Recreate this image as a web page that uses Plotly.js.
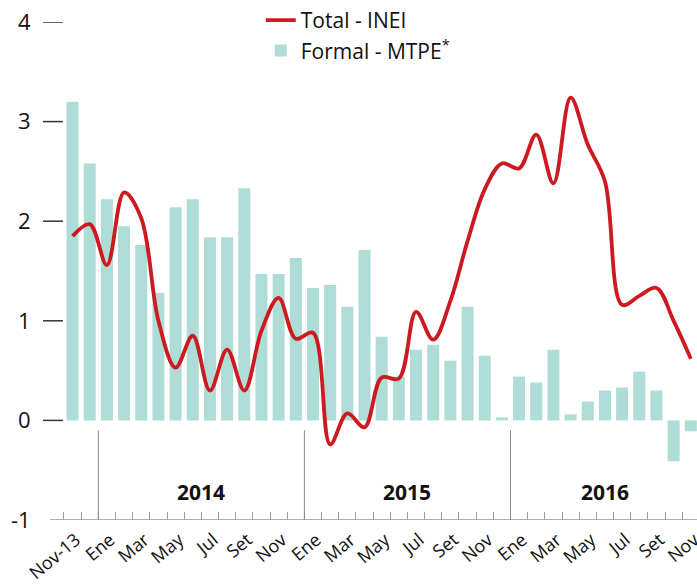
<!DOCTYPE html>
<html>
<head>
<meta charset="utf-8">
<script src="https://cdn.plot.ly/plotly-3.0.1.min.js"></script>
<style>html,body{margin:0;padding:0;background:#fff;}#chart{width:697px;height:584px;}</style>
</head>
<body>
<div id="chart"></div>
<script>
const months = ['Nov-13','Dic-13','Ene-14','Feb-14','Mar-14','Abr-14','May-14','Jun-14','Jul-14','Ago-14','Set-14','Oct-14','Nov-14','Dic-14','Ene-15','Feb-15','Mar-15','Abr-15','May-15','Jun-15','Jul-15','Ago-15','Set-15','Oct-15','Nov-15','Dic-15','Ene-16','Feb-16','Mar-16','Abr-16','May-16','Jun-16','Jul-16','Ago-16','Set-16','Oct-16','Nov-16'];
const totalINEI = [1.85,1.97,1.56,2.29,2.03,1.00,0.53,0.85,0.30,0.71,0.30,0.90,1.23,0.82,0.88,-0.24,0.07,-0.07,0.43,0.42,1.09,0.81,1.20,1.80,2.32,2.58,2.53,2.87,2.38,3.24,2.77,2.40,1.16,1.25,1.33,1.00,0.62];
const formalMTPE = [3.20,2.58,2.22,1.95,1.76,1.28,2.14,2.22,1.84,1.84,2.33,1.47,1.47,1.63,1.33,1.36,1.14,1.71,0.84,0.44,0.71,0.76,0.60,1.14,0.65,0.03,0.44,0.38,0.71,0.06,0.19,0.30,0.33,0.49,0.30,-0.41,-0.11];
const tickLabels = ['Nov-13','Ene','Mar','May','Jul','Set','Nov','Ene','Mar','May','Jul','Set','Nov','Ene','Mar','May','Jul','Set','Nov'];
const years = ['2014','2015','2016'];
const yTicks = [-1,0,1,2,3,4];
const yTickText = ['-1','0','1','2','3','4'];

const FONT = 'Open Sans, Lato, sans-serif';
const x = months.map((m,i)=>i);
const labelVals = x.filter(i=>i%2===0).map(i=>i+0.2);
const boundaryVals = x.map(i=>i-0.5);
const yearStarts = x.filter(i=>months[i].startsWith('Ene'));

const xMin = -1.72, xMax = 36.36;

const shapes = [];
yTicks.filter(v=>v>=0).forEach(v=>{
  shapes.push({type:'line', xref:'x', yref:'y', x0:xMin, x1:xMin+1.16, y0:v, y1:v, line:{color:'#333', width:1.5}});
});
shapes.push({type:'line', xref:'x', yref:'y', x0:-1.32, x1:xMax, y0:-1, y1:-1, line:{color:'#999', width:1.5}});
yearStarts.forEach(i=>{
  shapes.push({type:'line', xref:'x', yref:'y', x0:i-0.5, x1:i-0.5, y0:-1, y1:-0.1, line:{color:'#888', width:1}});
});

const annotations = years.map(yr=>{
  const idx = x.filter(i=>months[i].endsWith(yr.slice(2)));
  const mid = (idx[0]+idx[idx.length-1])/2;
  return {x:mid, y:-0.72, xref:'x', yref:'y', text:'<b>'+yr+'</b>', showarrow:false, font:{family:FONT, size:21, color:'#111'}};
});

const traces = [
  {type:'scatter', mode:'lines', name:'Total - INEI', x:x, y:totalINEI,
   line:{color:'#cc1a20', width:3.8, shape:'spline', smoothing:1}},
  {type:'bar', name:'Formal - MTPE<sup>*</sup>', x:x, y:formalMTPE, width:0.7,
   marker:{color:'#aedcd6'}}
];

const layout = {
  width:697, height:584,
  margin:{l:43, r:0, t:20, b:64},
  paper_bgcolor:'#fff', plot_bgcolor:'#fff',
  showlegend:true,
  legend:{x:0.333, y:1.045, xanchor:'left', yanchor:'top', font:{family:FONT, size:21, color:'#111'}, bgcolor:'rgba(0,0,0,0)', tracegroupgap:0, itemwidth:30},
  font:{family:FONT, color:'#111'},
  xaxis:{range:[xMin,xMax], showgrid:false, zeroline:false, showline:false,
    tickmode:'array', tickvals:labelVals, ticktext:tickLabels, ticks:'', tickangle:-40,
    ticklabeloverflow:'allow', ticklabelstandoff:5,
    tickfont:{family:FONT, size:18, color:'#111'},
    minor:{tickmode:'array', tickvals:boundaryVals, ticks:'inside', ticklen:8, tickcolor:'#999', tickwidth:1, showgrid:false}},
  yaxis:{range:[-1,4], showgrid:false, zeroline:false, showline:false,
    tickmode:'array', tickvals:yTicks, ticktext:yTickText, ticks:'outside', ticklen:7, tickcolor:'rgba(0,0,0,0)',
    tickfont:{family:FONT, size:22, color:'#111'}},
  shapes:shapes,
  annotations:annotations,
  bargap:0.3
};

Plotly.newPlot('chart', traces, layout, {displayModeBar:false, staticPlot:true});
</script>
</body>
</html>
